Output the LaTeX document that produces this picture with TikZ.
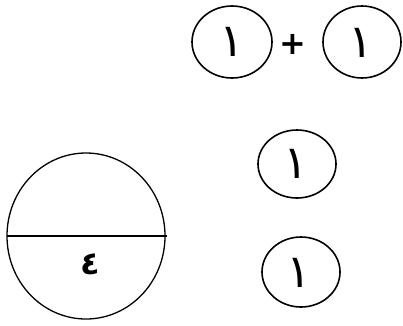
\documentclass[tikz,border=0pt]{standalone}
\usepackage{fontspec}
\newfontfamily\arabicfont[Script=Arabic]{DejaVu Sans}
\TeXXeTstate=1
\begin{document}
\begin{tikzpicture}[x=1pt,y=-1pt,
  oval/.style={draw=black,line width=1.6pt},
  digit/.style={font=\arabicfont\fontsize{46}{46}\selectfont,inner sep=0pt},
  four/.style={font=\arabicfont\bfseries\fontsize{32}{32}\selectfont,inner sep=0pt},
  plussign/.style={font=\arabicfont\bfseries\fontsize{32}{32}\selectfont,inner sep=0pt}]
\useasboundingbox (0,0) rectangle (403,325);
\draw[oval] (232,42) ellipse [x radius=40,y radius=36];
\node[digit] (a) at (232,42) {\beginR ١\endR};
\node[plussign] (plus) at (293,44) {+};
\draw[oval] (362,42) ellipse [x radius=39,y radius=36];
\node[digit] (b) at (361,43) {\beginR ١\endR};
\draw[oval] (297,164) ellipse [x radius=39,y radius=34];
\node[digit] (c) at (296,164) {\beginR ١\endR};
\draw[oval] (301,272) ellipse [x radius=39,y radius=35];
\node[digit] (d) at (299,273) {\beginR ١\endR};
\draw[line width=1.3pt] (86,236) ellipse [x radius=79,y radius=83];
\draw[line width=1.6pt] (7,236) -- (167,236);
\node[four] (e) at (90,264) {\beginR ٤\endR};
\end{tikzpicture}
\end{document}
